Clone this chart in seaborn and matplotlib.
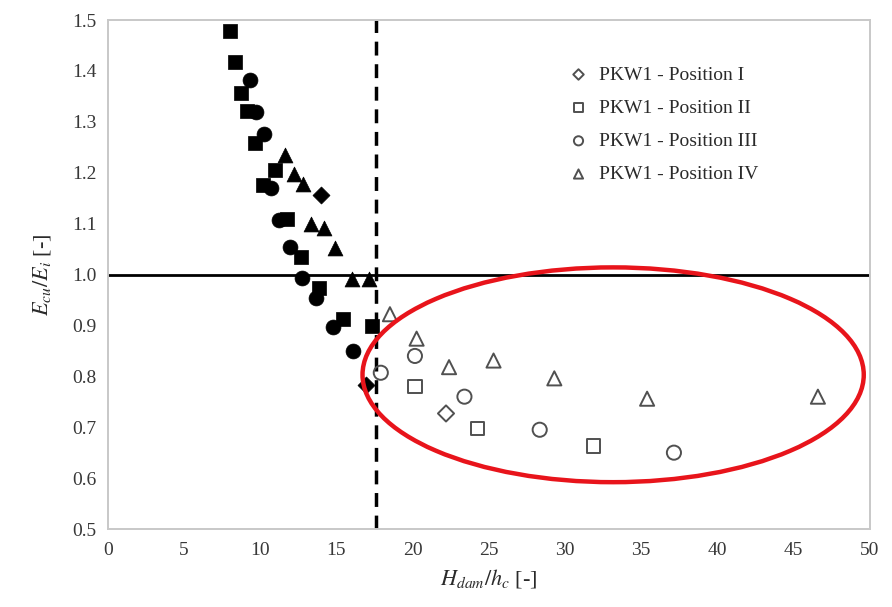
import matplotlib
matplotlib.use("Agg")
import matplotlib.pyplot as plt
from matplotlib.patches import Ellipse
import seaborn as sns
import pandas as pd

# Filled symbols (no legend entry)
pos1_fill_x = [14.0, 16.95]
pos1_fill_y = [1.156, 0.783]
pos2_fill_x = [7.98, 8.36, 8.75, 9.14, 9.67, 10.94, 10.18, 11.78, 12.70, 13.84, 15.40, 17.35]
pos2_fill_y = [1.478, 1.417, 1.357, 1.322, 1.258, 1.206, 1.176, 1.109, 1.034, 0.974, 0.912, 0.898]
pos3_fill_x = [9.30, 9.74, 10.24, 10.72, 11.20, 11.93, 12.74, 13.68, 14.76, 16.08]
pos3_fill_y = [1.382, 1.320, 1.277, 1.170, 1.107, 1.055, 0.993, 0.953, 0.896, 0.849]
pos4_fill_x = [11.64, 12.19, 12.81, 13.36, 14.19, 14.89, 15.99, 17.13]
pos4_fill_y = [1.234, 1.198, 1.178, 1.100, 1.092, 1.052, 0.992, 0.992]

# Open symbols (legend entries)
pos1_open_x = [22.19]
pos1_open_y = [0.727]
pos2_open_x = [20.15, 24.26, 31.88]
pos2_open_y = [0.780, 0.697, 0.663]
pos3_open_x = [17.91, 20.15, 23.40, 28.34, 37.15]
pos3_open_y = [0.807, 0.840, 0.760, 0.695, 0.650]
pos4_open_x = [18.51, 20.26, 22.39, 25.31, 29.30, 35.39, 46.6]
pos4_open_y = [0.922, 0.874, 0.818, 0.831, 0.796, 0.756, 0.760]

labels = ["PKW1 - Position I", "PKW1 - Position II",
          "PKW1 - Position III", "PKW1 - Position IV"]
markers = ["D", "s", "o", "^"]
x_ticks = [0, 5, 10, 15, 20, 25, 30, 35, 40, 45, 50]
y_ticks = [0.5, 0.6, 0.7, 0.8, 0.9, 1.0, 1.1, 1.2, 1.3, 1.4, 1.5]
h_limit = 17.57

sns.set_style("white")
plt.rcParams["font.family"] = ["Liberation Serif", "DejaVu Serif"]
plt.rcParams["mathtext.fontset"] = "stix"

fig = plt.figure(figsize=(8.92, 6.07), dpi=100)
ax = fig.add_axes([0.121, 0.1285, 0.854, 0.8385])

fill_sets = [(pos1_fill_x, pos1_fill_y), (pos2_fill_x, pos2_fill_y),
             (pos3_fill_x, pos3_fill_y), (pos4_fill_x, pos4_fill_y)]
open_sets = [(pos1_open_x, pos1_open_y), (pos2_open_x, pos2_open_y),
             (pos3_open_x, pos3_open_y), (pos4_open_x, pos4_open_y)]
sizes = [75, 100, 115, 115]

for (fx, fy), m, s in zip(fill_sets, markers, sizes):
    df = pd.DataFrame({"x": fx, "y": fy})
    sns.scatterplot(data=df, x="x", y="y", marker=m, s=s, color="black",
                    edgecolor="black", linewidth=0.5, ax=ax, zorder=3)

for (ox, oy), m, s, lab in zip(open_sets, markers, sizes, labels):
    df = pd.DataFrame({"x": ox, "y": oy})
    sns.scatterplot(data=df, x="x", y="y", marker=m, s=s * 0.9, facecolor="none",
                    edgecolor="#505050", linewidth=1.4, ax=ax, zorder=3,
                    label=lab)

ax.axhline(1.0, color="black", lw=2.0, zorder=2)
ax.axvline(h_limit, color="black", lw=2.5, ls=(0, (4, 2.5)), zorder=2)

ell = Ellipse((33.16, 0.803), width=32.9, height=0.422, fill=False,
              edgecolor="#e8141b", lw=3.2, zorder=4)
ax.add_patch(ell)

ax.set_xlim(0, 50)
ax.set_ylim(0.5, 1.5)
ax.set_xticks(x_ticks)
ax.set_yticks(y_ticks)
ax.set_xticklabels([str(t) for t in x_ticks])
ax.set_yticklabels([f"{t:.1f}" for t in y_ticks])
ax.tick_params(axis="both", direction="in", length=4, width=0.8,
               color="#c8c8c8", labelsize=14, labelcolor="#383838")
ax.tick_params(axis="y", pad=8)
ax.tick_params(axis="x", pad=9)

for sp in ax.spines.values():
    sp.set_color("#c8c8c8")
    sp.set_linewidth(1.4)

ax.set_xlabel(r"$H_{dam}/h_c$ [-]", fontsize=16, color="#2a2a2a", labelpad=6)
ax.set_ylabel(r"$E_{cu}/E_{i}$ [-]", fontsize=16, color="#2a2a2a", labelpad=14)

leg = ax.legend(loc="upper left", bbox_to_anchor=(0.582, 0.925), frameon=False,
                fontsize=14, handletextpad=0.05, labelspacing=0.8,
                markerscale=0.65, borderaxespad=0)
for t in leg.get_texts():
    t.set_color("#2a2a2a")

fig.savefig("out.png", dpi=100)
